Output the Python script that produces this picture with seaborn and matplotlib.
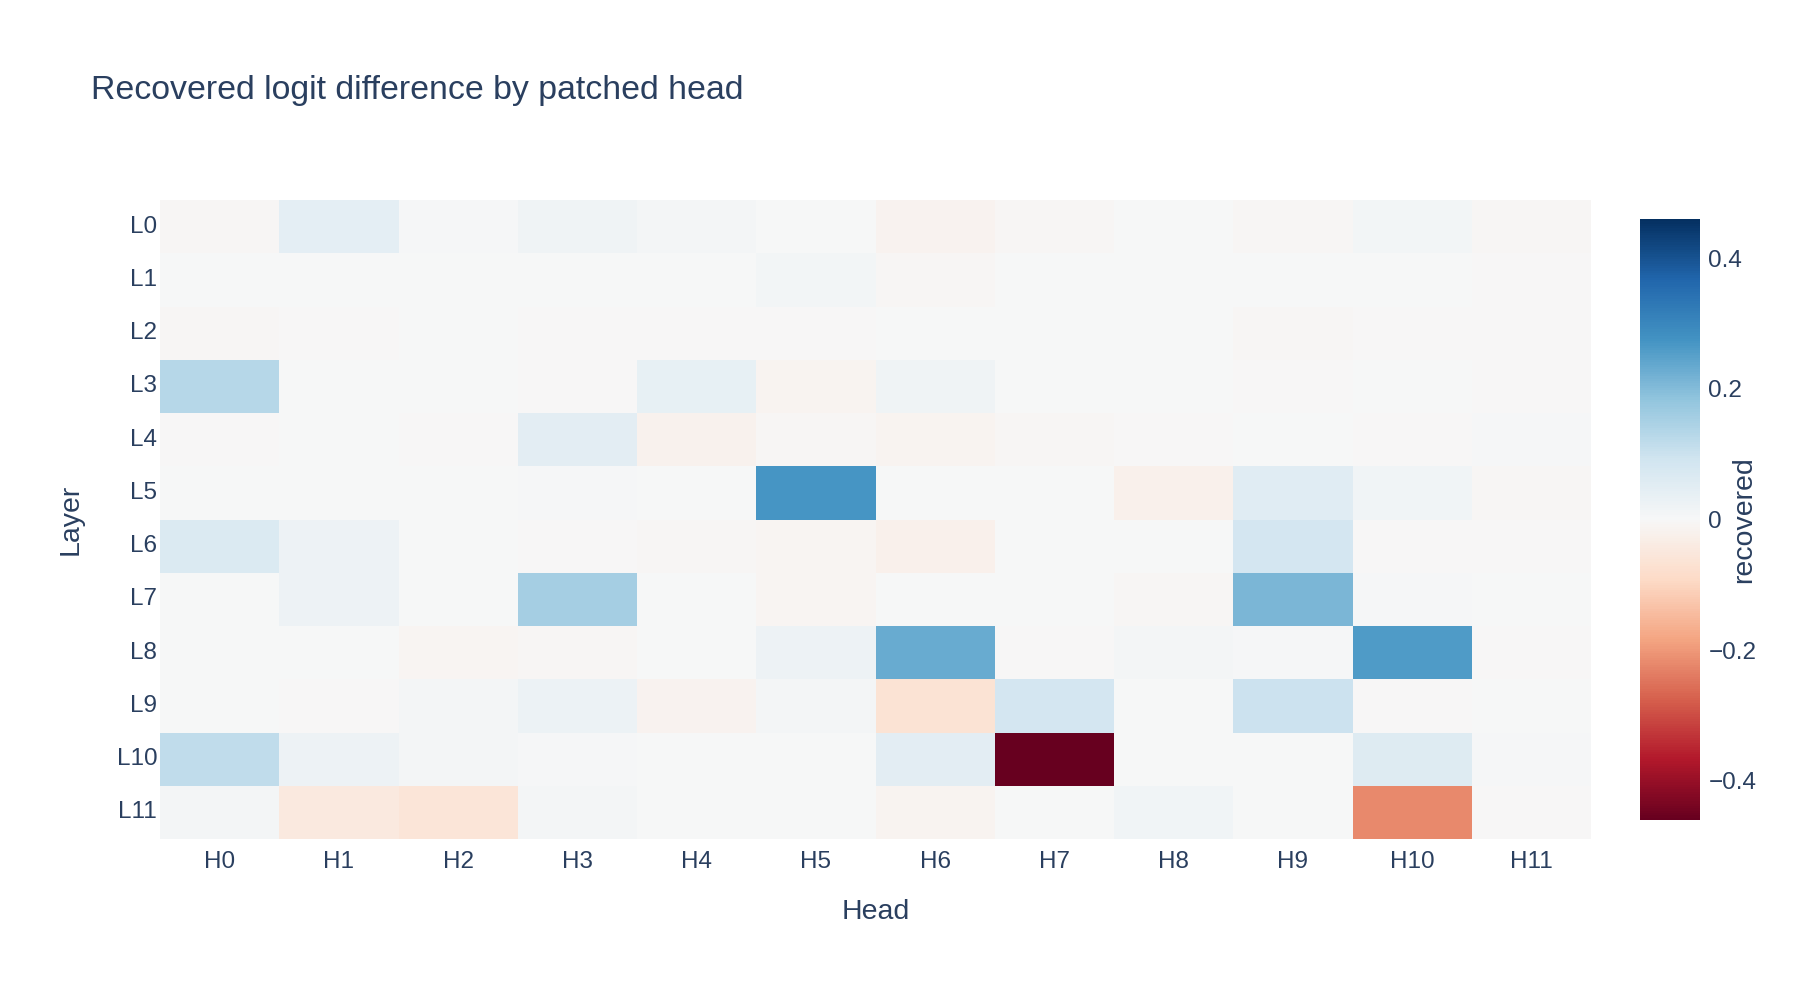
import numpy as np
import pandas as pd
import matplotlib
matplotlib.use("Agg")
import matplotlib.pyplot as plt
from matplotlib.ticker import FuncFormatter
import seaborn as sns

# Layer / head labels
LAYERS = ["L%d" % i for i in range(12)]
HEADS = ["H%d" % i for i in range(12)]

# recovered logit difference, one list per layer
L0 = [-0.005, 0.045, 0.005, 0.020, 0.010, 0.003, -0.015, -0.005, 0.003, -0.005, 0.012, -0.005]
L1 = [0.000, 0.000, 0.000, 0.000, 0.002, 0.012, -0.005, 0.000, 0.000, 0.003, 0.000, -0.002]
L2 = [-0.004, -0.003, 0.002, -0.002, -0.001, -0.002, 0.000, 0.000, 0.000, -0.006, -0.003, -0.003]
L3 = [0.130, 0.002, 0.002, -0.002, 0.037, -0.012, 0.018, 0.000, 0.000, -0.002, 0.000, -0.001]
L4 = [-0.002, 0.000, -0.001, 0.050, -0.020, -0.004, -0.012, -0.005, -0.002, 0.000, -0.003, 0.005]
L5 = [0.000, 0.000, 0.002, 0.007, 0.003, 0.270, 0.003, 0.000, -0.025, 0.055, 0.015, -0.005]
L6 = [0.065, 0.022, 0.003, -0.002, -0.006, -0.008, -0.025, 0.000, 0.000, 0.085, -0.001, -0.001]
L7 = [0.000, 0.025, 0.000, 0.155, 0.000, -0.008, 0.000, 0.000, -0.006, 0.210, 0.005, 0.000]
L8 = [0.000, 0.000, -0.010, -0.006, 0.000, 0.022, 0.230, -0.001, 0.008, 0.006, 0.260, -0.001]
L9 = [0.003, -0.002, 0.008, 0.027, -0.015, 0.010, -0.065, 0.085, 0.003, 0.100, -0.002, 0.000]
L10 = [0.115, 0.025, 0.010, 0.006, 0.003, 0.003, 0.050, -0.460, 0.000, 0.002, 0.060, 0.006]
L11 = [0.008, -0.045, -0.060, 0.010, 0.000, 0.000, -0.014, 0.003, 0.015, 0.002, -0.220, -0.001]

ZMAX = 0.46
CB_TICKS = [-0.4, -0.2, 0, 0.2, 0.4]

TEXT_COLOR = "#2a3f5f"


def main():
    sns.set_theme(style="white")
    plt.rcParams["font.family"] = ["Liberation Sans", "DejaVu Sans"]
    plt.rcParams["text.color"] = TEXT_COLOR

    df = pd.DataFrame([L0, L1, L2, L3, L4, L5, L6, L7, L8, L9, L10, L11],
                      index=LAYERS, columns=HEADS)

    fig = plt.figure(figsize=(18, 10), dpi=100)
    ax = fig.add_axes([160 / 1800, 1 - 839 / 1000, (1591 - 160) / 1800, 639 / 1000])
    cax = fig.add_axes([1640 / 1800, 1 - 820 / 1000, 60 / 1800, 601 / 1000])

    sns.heatmap(df, ax=ax, cbar_ax=cax, cmap="RdBu", vmin=-ZMAX, vmax=ZMAX,
                center=0, linewidths=0, square=False)

    ax.tick_params(axis="both", length=0, labelsize=17.5, colors=TEXT_COLOR)
    ax.tick_params(axis="x", pad=9)
    ax.tick_params(axis="y", pad=2)
    plt.setp(ax.get_yticklabels(), rotation=0)
    plt.setp(ax.get_xticklabels(), rotation=0)
    ax.set_xlabel("")
    ax.set_ylabel("")

    # colorbar styling
    cbar = ax.collections[0].colorbar
    cbar.outline.set_visible(False)
    cbar.set_ticks(CB_TICKS)
    cbar.ax.yaxis.set_major_formatter(
        FuncFormatter(lambda v, p: "0" if abs(v) < 1e-9 else ("%.1f" % v).replace("-", "\u2212")))
    cbar.ax.tick_params(length=0, labelsize=17.5, colors=TEXT_COLOR, pad=6)

    # titles
    fig.text(91 / 1800, 1 - 91 / 1000, "Recovered logit difference by patched head",
             fontsize=24.4, color=TEXT_COLOR, ha="left", va="center")
    fig.text(876 / 1800, 1 - 912 / 1000, "Head", fontsize=20.5, color=TEXT_COLOR,
             ha="center", va="center")
    fig.text(71 / 1800, 1 - 519 / 1000, "Layer", fontsize=20.5, color=TEXT_COLOR,
             ha="center", va="center", rotation=90)
    fig.text(1744 / 1800, 1 - 520 / 1000, "recovered", fontsize=20.5, color=TEXT_COLOR,
             ha="center", va="center", rotation=90)

    fig.savefig("out.png", dpi=100, facecolor="white")
    plt.close(fig)


if __name__ == "__main__":
    main()
